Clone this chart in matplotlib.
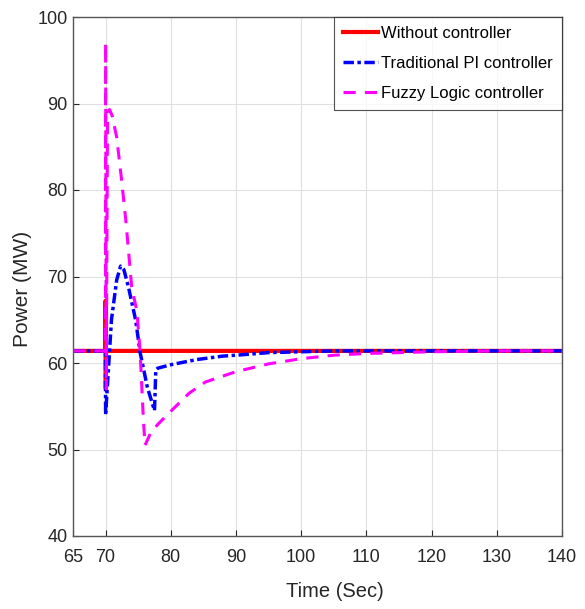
import matplotlib
matplotlib.use("Agg")
import matplotlib.pyplot as plt

plt.rcParams['font.family'] = ['Liberation Sans', 'DejaVu Sans']

# Data
t_red = [65, 69.98, 70.0, 70.03, 70.06, 140]
p_red = [61.4, 61.4, 67.2, 57.0, 61.4, 61.4]

t_pi = [65, 69.98, 70.0, 70.9, 71.7, 72.3, 72.8, 73.5, 74.6, 75.3, 76.4, 77.5,
        77.7, 78, 80, 82, 84, 86, 88, 90, 95, 100, 105, 140]
p_pi = [61.4, 61.4, 54.0, 65.0, 69.6, 71.2, 70.8, 68.8, 65.0, 61.2, 57.2, 54.5,
        59.2, 59.4, 59.8, 60.1, 60.4, 60.6, 60.8, 60.9, 61.2, 61.3, 61.4, 61.4]

t_flc = [65, 69.98, 70.0, 70.1, 70.3, 70.6, 71.0, 71.7, 72.4, 73.1, 74.0, 74.8,
         75.3, 75.8, 76.05, 76.9, 78.0, 79.7, 82.8, 85.3, 90, 95, 100, 105, 110,
         120, 130, 140]
p_flc = [61.4, 61.4, 97.0, 57.0, 89.0, 89.3, 88.6, 86.1, 81.5, 76.5, 68.8, 66.0,
         61.2, 53.4, 50.5, 51.9, 52.9, 54.2, 56.5, 57.8, 59.0, 59.9, 60.5, 60.9,
         61.1, 61.3, 61.4, 61.4]

x_ticks = [65, 70, 80, 90, 100, 110, 120, 130, 140]
y_ticks = [40, 50, 60, 70, 80, 90, 100]

fig = plt.figure(figsize=(5.85, 6.09), dpi=100)
ax = fig.add_axes([73/585, 1-536/609, 489/585, 519/609])

ax.plot(t_red, p_red, color='#ff0000', lw=3.0, label='Without controller')
ax.plot(t_pi, p_pi, color='#0000ff', lw=2.5, ls=(0, (3, 1, 1, 1)),
        label='Traditional PI controller')
ax.plot(t_flc, p_flc, color='#ff00ff', lw=2.2, ls=(0, (4, 3)),
        label='Fuzzy Logic controller')

ax.set_xlim(65, 140)
ax.set_ylim(40, 100)
ax.set_xticks(x_ticks)
ax.set_yticks(y_ticks)
ax.grid(True, color='#e0e0e0', lw=0.8)
ax.set_axisbelow(True)
ax.tick_params(direction='in', labelsize=13, length=4.5, colors='#262626',
               top=False, right=False)
ax.tick_params(axis='x', pad=9)
ax.tick_params(axis='y', pad=4)
for s in ax.spines.values():
    s.set_color('#555555')
    s.set_linewidth(1.0)

ax.set_xlabel('Time (Sec)', fontsize=14.5, color='#262626')
ax.set_ylabel('Power (MW)', fontsize=15, color='#262626')
ax.xaxis.set_label_coords(0.535, -0.088)
ax.yaxis.set_label_coords(-0.084, 0.476)

leg = ax.legend(loc='upper right', fontsize=12, frameon=True, fancybox=False,
                edgecolor='#262626', borderaxespad=0.0, handlelength=2.1,
                handletextpad=0.2, labelspacing=0.9, borderpad=0.55)
leg.get_frame().set_linewidth(0.8)

fig.savefig('out.png', dpi=100)
